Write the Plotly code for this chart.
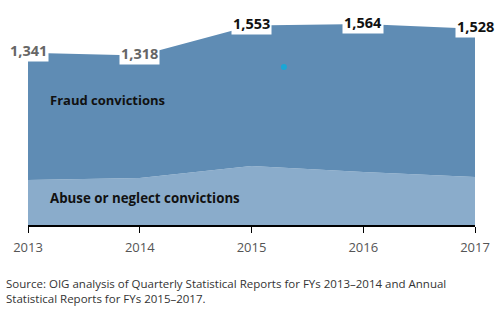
import plotly.graph_objects as go

years = [2013, 2014, 2015, 2016, 2017]
total_convictions = [1341, 1318, 1553, 1564, 1528]
abuse_convictions = [350, 366, 459, 412, 374]
total_labels = ["1,341", "1,318", "1,553", "1,564", "1,528"]
label_colors = ["#666666", "#666666", "#111111", "#111111", "#111111"]
tick_labels = ["2013", "2014", "2015", "2016", "2017"]
dot_x = [2015.29]
dot_y = [1230]

fig = go.Figure()
fig.add_trace(go.Scatter(x=years, y=abuse_convictions, mode="lines", line=dict(width=0),
                         fill="tozeroy", fillcolor="#8aaccb", hoverinfo="skip"))
fig.add_trace(go.Scatter(x=years, y=total_convictions, mode="lines", line=dict(width=0),
                         fill="tonexty", fillcolor="#5f8cb4", hoverinfo="skip"))
fig.add_trace(go.Scatter(x=dot_x, y=dot_y, mode="markers",
                         marker=dict(color="#1aa7d6", size=6), hoverinfo="skip"))

for x, y, t, c in zip(years, total_convictions, total_labels, label_colors):
    fig.add_annotation(x=x, y=y, text="<b>%s</b>" % t, showarrow=False,
                       font=dict(family="Open Sans", size=14.5, color=c),
                       bgcolor="white", borderpad=1, yshift=2)

fig.add_annotation(x=0.045, y=0.58, xref="paper", yref="paper", xanchor="left",
                   text="<b>Fraud convictions</b>", showarrow=False,
                   font=dict(family="Open Sans", size=13, color="#111111"))
fig.add_annotation(x=0.045, y=0.12, xref="paper", yref="paper", xanchor="left",
                   text="<b>Abuse or neglect convictions</b>", showarrow=False,
                   font=dict(family="Open Sans", size=13.3, color="#111111"), yshift=-10)
fig.add_annotation(x=-0.053, y=-0.23, xref="paper", yref="paper", xanchor="left", yanchor="top",
                   align="left",
                   text="Source: OIG analysis of Quarterly Statistical Reports for FYs 2013\u20132014 and Annual<br>Statistical Reports for FYs 2015\u20132017.",
                   showarrow=False,
                   font=dict(family="Open Sans", size=11.5, color="#333333"))

fig.update_layout(
    width=500, height=328,
    margin=dict(l=28, r=22, t=10, b=103),
    paper_bgcolor="white", plot_bgcolor="white",
    showlegend=False,
    xaxis=dict(range=[2013, 2017], tickvals=years, ticktext=tick_labels,
               showgrid=False, zeroline=False, showline=True, linecolor="black", linewidth=1.5,
               ticks="outside", ticklen=6, tickcolor="black", ticklabelstandoff=4,
               tickfont=dict(family="Open Sans", size=13, color="#555555")),
    yaxis=dict(range=[0, 1673], visible=False, showgrid=False, zeroline=False),
)

fig.write_html("out.html")
